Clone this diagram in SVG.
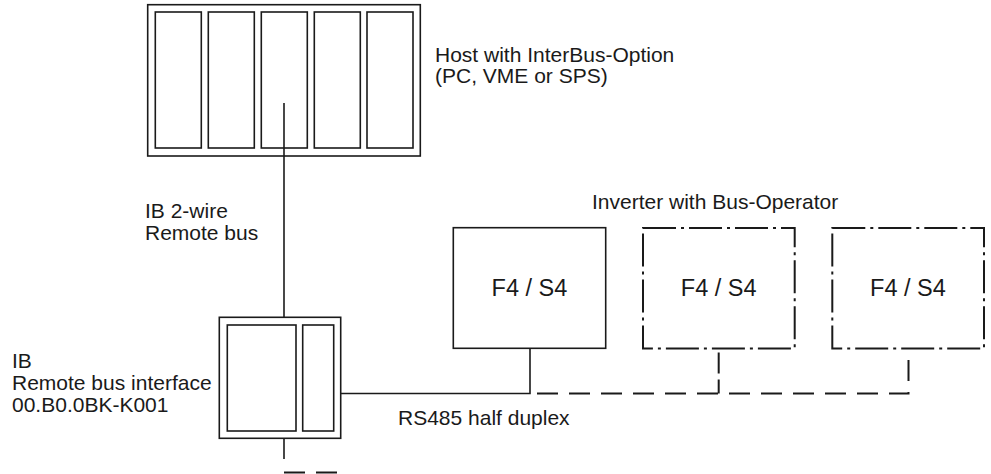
<svg xmlns="http://www.w3.org/2000/svg" width="991" height="474" viewBox="0 0 991 474">
<style>
.box{fill:none;stroke:#1a1a1a;stroke-width:1.6}
.dd{fill:none;stroke:#1a1a1a;stroke-width:2;stroke-dasharray:33 5 3 5}
.ln{fill:none;stroke:#1a1a1a;stroke-width:1.6}
.dash{fill:none;stroke:#1a1a1a;stroke-width:2;stroke-dasharray:21 11}
text{font-family:"Liberation Sans",Arial,Helvetica,sans-serif;font-size:21px;fill:#1a1a1a}
.big{font-size:23.5px}
</style>
<rect width="991" height="474" fill="#fff"/>
<g id="connectors">
<line class="ln" x1="284" y1="103" x2="284" y2="317.5"/>
<line class="ln" x1="284" y1="438.5" x2="284" y2="459"/>
<line class="dash" x1="284" y1="472.5" x2="340" y2="472.5"/>
<polyline class="ln" points="341,393.5 530,393.5 530,348.5"/>
<polyline class="dash" points="537,393.5 908.5,393.5 908.5,348.5"/>
<line class="dash" x1="718.7" y1="393.5" x2="718.7" y2="348.5" style="stroke-dasharray:14 6 21 11"/>
</g>
<g id="host">
<rect class="box" x="147.7" y="4.7" width="272.6" height="151.3"/>
<rect class="box" x="155.3" y="12" width="46" height="136"/>
<rect class="box" x="208.3" y="12" width="46" height="136"/>
<rect class="box" x="261.3" y="12" width="46" height="136"/>
<rect class="box" x="314.3" y="12" width="46" height="136"/>
<rect class="box" x="367" y="12" width="46" height="136"/>
<text x="435" y="62">Host with InterBus-Option</text>
<text x="435" y="83">(PC, VME or SPS)</text>
</g>
<g id="remote-bus-label">
<text x="145" y="217.7">IB 2-wire</text>
<text x="145" y="240">Remote bus</text>
</g>
<g id="interface">
<rect class="box" x="219.3" y="317.3" width="121.4" height="121"/>
<rect class="box" x="227.3" y="325" width="68.7" height="106"/>
<rect class="box" x="302.7" y="325" width="31" height="106"/>
<text x="12" y="368">IB</text>
<text x="12" y="390">Remote bus interface</text>
<text x="12" y="412">00.B0.0BK-K001</text>
</g>
<g id="rs485-label">
<text x="398" y="425">RS485 half duplex</text>
</g>
<g id="inverter-label">
<text x="592" y="209">Inverter with Bus-Operator</text>
</g>
<g id="inverter1">
<rect class="box" x="453.3" y="227.7" width="152.4" height="120.6"/>
<text class="big" x="529.5" y="296" text-anchor="middle">F4 / S4</text>
</g>
<g id="inverter2">
<rect class="dd" x="643" y="228" width="151.7" height="120.5"/>
<text class="big" x="718.7" y="296" text-anchor="middle">F4 / S4</text>
</g>
<g id="inverter3">
<rect class="dd" x="832.3" y="228" width="151.7" height="120.5"/>
<text class="big" x="908" y="296" text-anchor="middle">F4 / S4</text>
</g>
</svg>
